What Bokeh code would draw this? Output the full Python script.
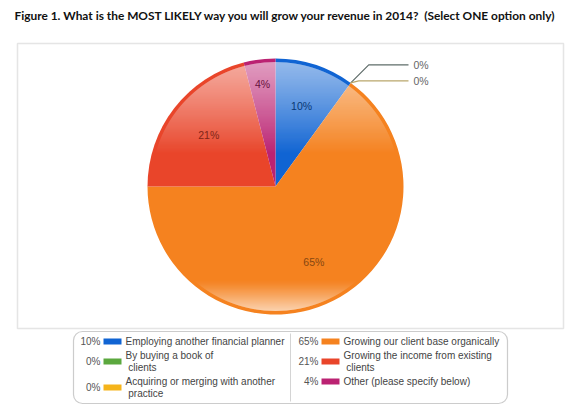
import math
import numpy as np
from bokeh.plotting import figure
from bokeh.models import Range1d, BoxAnnotation
from bokeh.core.properties import value
from bokeh.embed import file_html
from bokeh.resources import INLINE

# ---- data -------------------------------------------------------------
title = ("Figure 1. What is the MOST LIKELY way you will grow your revenue "
         "in 2014?\u00a0 (Select ONE option only)")
categories = [
    "Employing another financial planner",
    "By buying a book of\n\u00a0clients",
    "Acquiring or merging with another\n\u00a0practice",
    "Growing our client base organically",
    "Growing the income from existing\n\u00a0clients",
    "Other (please specify below)",
]
shares = [10, 0, 0, 65, 21, 4]
colors = ["#1064d3", "#5ba83e", "#f5b41b", "#f5821f", "#e9452a", "#bb2272"]
leader_colors = ["#5f6d6a", "#b9a76c"]   # for the zero-share call-outs

# ---- figure (1 data unit = 1 px, pie centred on the origin) -----------
W, H = 580, 415
cx_px, cy_px = 275, 186
p = figure(width=W, height=H, output_backend="svg", toolbar_location=None,
           x_range=Range1d(-cx_px, W - cx_px), y_range=Range1d(cy_px - H, cy_px),
           min_border=0, outline_line_color=None, background_fill_color="white")
p.axis.visible = False
p.grid.visible = False

FONT = value("Liberation Sans")

# outer frame of the chart area
p.add_layout(BoxAnnotation(left=-258, right=288, top=143, bottom=-142,
                           fill_alpha=0, line_color="#a9a9a9", line_width=1.5))

# title
p.text(x=[-261], y=[171], text=[title], text_font=value("Lato"),
       text_font_style="bold", text_font_size="11.9px", text_color="#111111",
       text_baseline="middle", text_align="left")

# ---- pie ----------------------------------------------------------------
R = 128
total = float(sum(shares))
cum = np.concatenate([[0.0], np.cumsum(shares)]) / total
# clockwise from 12 o'clock
a_from = np.pi / 2 - 2 * np.pi * cum[:-1]
a_to = np.pi / 2 - 2 * np.pi * cum[1:]

nz = [i for i, s in enumerate(shares) if s > 0]
p.wedge(x=0, y=0, radius=R,
        start_angle=[a_to[i] for i in nz], end_angle=[a_from[i] for i in nz],
        fill_color=[colors[i] for i in nz], line_color=None)

# glossy shading: white horizontal strips inside a thin rim
r_in = R - 3.5
def strip(y0, y1):
    w0 = math.sqrt(max(r_in ** 2 - y0 ** 2, 0))
    w1 = math.sqrt(max(r_in ** 2 - y1 ** 2, 0))
    return [-w0, w0, w1, -w1], [y0, y0, y1, y1]

xs, ys, al = [], [], []
y_hi0 = int(0.25 * R)
for y0 in range(y_hi0, int(math.ceil(r_in))):
    y1 = min(y0 + 1, r_in)
    sx, sy = strip(y0, y1)
    t = ((y0 + y1) / 2 - y_hi0) / (r_in - y_hi0)
    xs.append(sx); ys.append(sy); al.append(0.66 * t)
y_lo0 = -int(0.72 * R)
for y1 in range(y_lo0, -int(math.ceil(r_in)), -1):
    y0 = max(y1 - 1, -r_in)
    sx, sy = strip(y0, y1)
    t = (y_lo0 - (y0 + y1) / 2) / (r_in + y_lo0)
    xs.append(sx); ys.append(sy); al.append(0.8 * t ** 1.4)
p.patches(xs=xs, ys=ys, fill_color="white", fill_alpha=al, line_color=None)

# percentage labels inside slices
def darker(hexcol, f=0.5):
    r, g, b = (int(hexcol[k:k + 2], 16) for k in (1, 3, 5))
    return "#%02x%02x%02x" % (int(r * f), int(g * f), int(b * f))

lx, ly, lt, lc = [], [], [], []
for i in nz:
    mid = (a_from[i] + a_to[i]) / 2
    rr = R * (0.66 if shares[i] >= 5 else 0.81)
    lx.append(rr * math.cos(mid)); ly.append(rr * math.sin(mid))
    lt.append(f"{shares[i]}%"); lc.append(darker(colors[i], 0.55))
p.text(x=lx, y=ly, text=lt, text_color=lc, text_font=FONT,
       text_font_size="10.5px", text_align="center", text_baseline="middle")

# call-outs for zero-share slices
zeros = [i for i, s in enumerate(shares) if s == 0]
rise = [18, 2]
run = [18, 8]
x_end = 133
for k, i in enumerate(zeros):
    a = a_from[i]
    ex, ey = R * math.cos(a), R * math.sin(a)
    elx, ely = ex + run[k], ey + rise[k]
    p.line(x=[ex, elx, x_end], y=[ey, ely, ely], line_color=leader_colors[k],
           line_width=1.2)
    p.text(x=[x_end + 5], y=[ely], text=[f"{shares[i]}%"], text_color="#666666",
           text_font=FONT, text_font_size="10.5px", text_baseline="middle",
           text_align="left")

# ---- legend ---------------------------------------------------------------
p.add_layout(BoxAnnotation(left=-202, right=232, top=-145, bottom=-217,
                           fill_alpha=0, line_color="#555555", line_width=1.2,
                           border_radius=9))
p.segment(x0=[15], y0=[-147], x1=[15], y1=[-215], line_color="#d4d4d4",
          line_width=1)

col_x = [-175, 43]          # right edge of the percentage text
row_top = cy_px - 335
line_h, gap = 12, 2
px_, py_, pt_ = [], [], []
tx, ty, tt = [], [], []
sw_l, sw_r, sw_t, sw_b, sw_c = [], [], [], [], []
for col in range(2):
    top = row_top
    for i in range(col * 3, col * 3 + 3):
        lines = categories[i].split("\n")
        n = len(lines)
        yc = top - n * line_h / 2
        x0 = col_x[col]
        px_.append(x0); py_.append(yc); pt_.append(f"{shares[i]}%")
        sw_l.append(x0 + 3); sw_r.append(x0 + 21)
        sw_t.append(yc + 3); sw_b.append(yc - 3); sw_c.append(colors[i])
        for j, s in enumerate(lines):
            tx.append(x0 + 25); ty.append(top - line_h / 2 - j * line_h); tt.append(s)
        top -= n * line_h + gap

p.quad(left=sw_l, right=sw_r, top=sw_t, bottom=sw_b, fill_color=sw_c,
       line_color=None)
p.text(x=px_, y=py_, text=pt_, text_color="#555555", text_font=FONT,
       text_font_size="10px", text_align="right", text_baseline="middle")
p.text(x=tx, y=ty, text=tt, text_color="#444444", text_font=FONT,
       text_font_size="10px", text_align="left", text_baseline="middle")

open("out.html", "w").write(file_html(p, INLINE))
